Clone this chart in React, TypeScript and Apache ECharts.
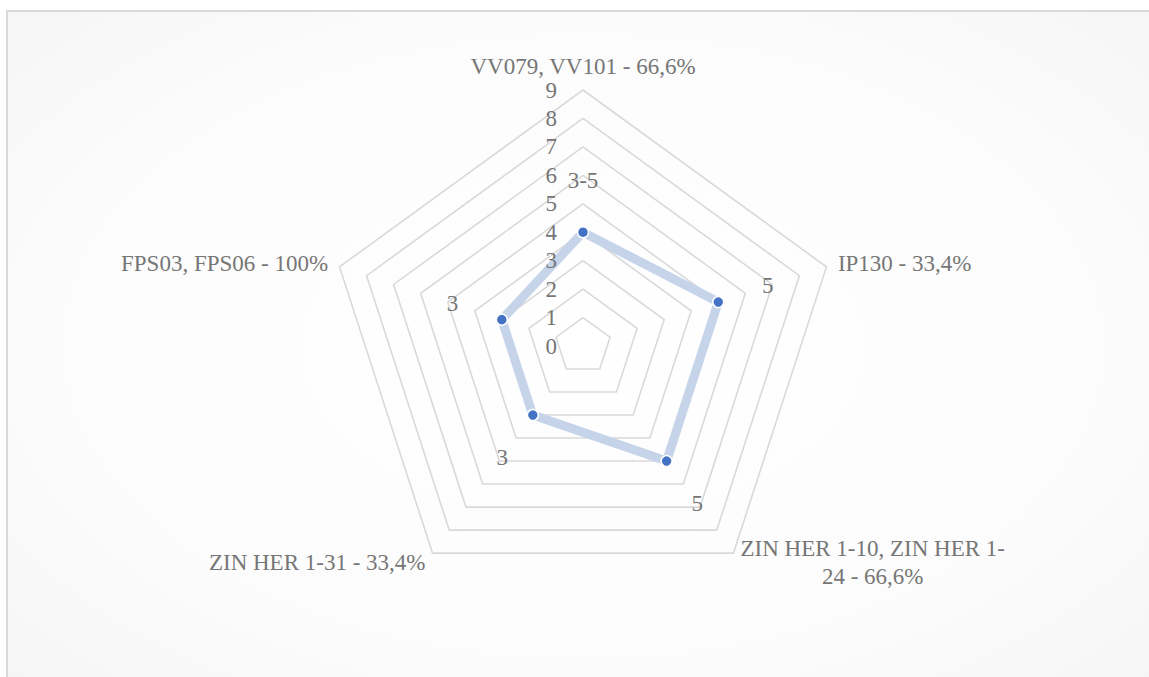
import React, { useEffect, useRef } from 'react';
import * as echarts from 'echarts';

// Indicators listed counter-clockwise from the top (ECharts radar order)
const indicatorNames = [
  'VV079, VV101 - 66,6%',
  'FPS03, FPS06 - 100%',
  'ZIN HER 1-31 - 33,4%',
  'ZIN HER 1-10, ZIN HER 1-24 - 66,6%',
  'IP130 - 33,4%',
];
const seriesValues = [4, 3, 3, 5, 5];
const pointLabels = ['3-5', '3', '3', '5', '5'];
const axisMin = 0;
const axisMax = 9;
const axisSplits = 9;

const CX = 583;
const CY = 346;
const RADIUS = 256;
const LABEL_DIST = 52;
const FONT = '"Liberation Serif", "DejaVu Serif", serif';
const TEXT_COLOR = '#767676';
const FONT_SIZE = 23;

export default function App() {
  const ref = useRef<HTMLDivElement>(null);
  useEffect(() => {
    if (!ref.current) return;
    const chart = echarts.init(ref.current, undefined, { renderer: 'svg' });
    const baseRadar = {
      center: [CX, CY],
      radius: RADIUS,
      startAngle: 90,
      shape: 'polygon',
      splitNumber: axisSplits,
      axisLine: { show: false },
      axisTick: { show: false },
      axisLabel: { show: false },
      splitArea: { show: false },
    };
    const option: any = {
      animation: false,
      graphic: [
        {
          type: 'rect',
          z: -10,
          silent: true,
          shape: { x: 7, y: 11, width: 1200, height: 720 },
          style: {
            fill: new echarts.graphic.RadialGradient(0.48, 0.465, 0.95, [
              { offset: 0, color: '#ffffff' },
              { offset: 0.45, color: '#fcfcfc' },
              { offset: 1, color: '#eeeeee' },
            ]),
            stroke: '#d9d9d9',
            lineWidth: 2,
          },
        },
      ],
      radar: [
        {
          ...baseRadar,
          z: 1,
          nameGap: 12,
          axisName: {
            color: TEXT_COLOR,
            fontFamily: FONT,
            fontSize: FONT_SIZE,
            formatter: (name: string) => {
              const cut = name.indexOf('ZIN HER 1-24');
              if (cut >= 0) {
                const first = name.slice(0, cut + 'ZIN HER 1-'.length);
                const second = name.slice(cut + 'ZIN HER 1-'.length);
                return '{a|' + first + '}\n{b|' + second + '}';
              }
              return name;
            },
            rich: {
              a: { color: TEXT_COLOR, fontFamily: FONT, fontSize: FONT_SIZE, lineHeight: 28 },
              b: { color: TEXT_COLOR, fontFamily: FONT, fontSize: FONT_SIZE, lineHeight: 28, align: 'center' },
            },
          },
          splitLine: { lineStyle: { color: '#d9d9d9', width: 1.6 } },
          indicator: indicatorNames.map((n) => ({ name: n, min: axisMin, max: axisMax })),
        },
        {
          ...baseRadar,
          z: 10,
          axisName: { show: false },
          splitLine: { show: false },
          indicator: indicatorNames.map((n, i) => {
            const ind: any = { name: n, min: axisMin, max: axisMax };
            if (i === 0) {
              ind.axisLabel = {
                show: true,
                margin: 26,
                color: TEXT_COLOR,
                fontFamily: FONT,
                fontSize: FONT_SIZE,
                showMinLabel: true,
                showMaxLabel: true,
              };
            }
            return ind;
          }),
        },
      ],
      series: [
        {
          type: 'radar',
          radarIndex: 0,
          z: 3,
          symbol: 'circle',
          symbolSize: 11,
          itemStyle: { color: '#4472c4', borderColor: '#ffffff', borderWidth: 1.5 },
          lineStyle: { color: '#c6d4ea', width: 9, join: 'round' },
          label: {
            show: true,
            position: 'inside',
            color: TEXT_COLOR,
            fontFamily: FONT,
            fontSize: FONT_SIZE,
            formatter: (p: any) => {
              const i = typeof p.dimensionIndex === 'number' ? p.dimensionIndex : seriesValues.indexOf(p.value);
              return pointLabels[i] != null ? pointLabels[i] : String(p.value);
            },
          },
          labelLayout: (p: any) => {
            const r = p.rect;
            const px = r.x + r.width / 2;
            const py = r.y + r.height / 2;
            const dx = px - CX;
            const dy = py - CY;
            const len = Math.hypot(dx, dy) || 1;
            return { dx: (dx / len) * LABEL_DIST, dy: (dy / len) * LABEL_DIST };
          },
          data: [{ value: seriesValues, name: 'Serie 1' }],
        },
      ],
    };
    chart.setOption(option);
    return () => chart.dispose();
  }, []);
  return (
    <div
      ref={ref}
      style={{ position: 'absolute', left: 0, top: 0, width: 1149, height: 677 }}
    />
  );
}
